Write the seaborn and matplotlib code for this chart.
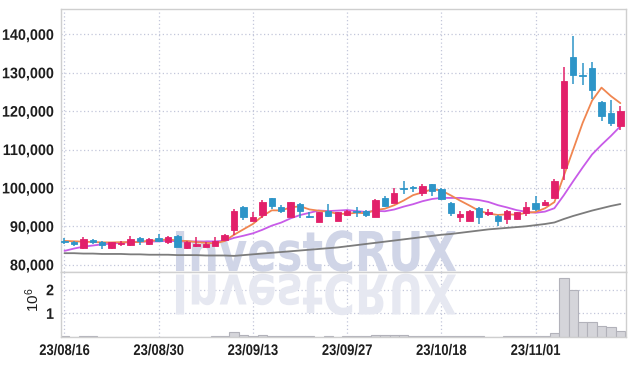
import numpy as np
import pandas as pd
import matplotlib
matplotlib.use("Agg")
import matplotlib.pyplot as plt
import seaborn as sns
from matplotlib import font_manager
from matplotlib.patheffects import AbstractPathEffect
from matplotlib.transforms import Affine2D
from matplotlib.ticker import FuncFormatter

# ---------------- data (prices in thousand KRW, volume in millions) -------------
dates = ["23/08/16", "23/08/17", "23/08/18", "23/08/21", "23/08/22", "23/08/23", "23/08/24", "23/08/25", "23/08/28", "23/08/29",
         "23/08/30", "23/08/31", "23/09/01", "23/09/04", "23/09/05", "23/09/06", "23/09/07", "23/09/08", "23/09/11", "23/09/12",
         "23/09/13", "23/09/14", "23/09/15", "23/09/18", "23/09/19", "23/09/20", "23/09/21", "23/09/22", "23/09/25", "23/09/26",
         "23/09/27", "23/10/04", "23/10/05", "23/10/06", "23/10/10", "23/10/11", "23/10/12", "23/10/13", "23/10/16", "23/10/17",
         "23/10/18", "23/10/19", "23/10/20", "23/10/23", "23/10/24", "23/10/25", "23/10/26", "23/10/27", "23/10/30", "23/10/31",
         "23/11/01", "23/11/02", "23/11/03", "23/11/06", "23/11/07", "23/11/08", "23/11/09", "23/11/10", "23/11/13", "23/11/14"]

opens = [86.3, 86.0, 84.3, 86.5, 85.9, 84.3, 85.3, 85.1, 87.0, 85.3,
         87.0, 86.0, 87.6, 84.3, 85.0, 84.7, 84.9, 86.5, 89.0, 95.1,
         91.5, 93.0, 97.3, 95.0, 92.5, 95.9, 92.7, 91.2, 93.9, 91.5,
         93.0, 94.0, 94.0, 92.5, 97.3, 96.2, 100.0, 100.2, 98.8, 101.0,
         99.7, 96.2, 92.4, 91.5, 94.7, 93.2, 92.7, 91.9, 91.9, 93.4,
         96.2, 95.6, 97.5, 105.3, 134.0, 129.4, 131.2, 122.4, 119.5, 116.0]
highs = [87.0, 86.2, 87.2, 86.8, 86.3, 86.0, 86.1, 87.4, 87.1, 87.0,
         88.1, 87.6, 87.7, 86.3, 87.2, 85.8, 87.3, 88.0, 94.5, 95.2,
         93.6, 96.9, 97.4, 95.5, 96.4, 96.0, 93.6, 93.8, 95.8, 93.7,
         94.3, 95.1, 94.2, 97.1, 97.9, 99.9, 101.9, 100.4, 101.0, 101.1,
         100.0, 96.3, 93.9, 94.3, 94.9, 94.5, 93.0, 94.3, 93.8, 96.4,
         97.9, 96.8, 102.2, 131.6, 139.6, 132.5, 132.8, 122.6, 122.9, 121.3]
lows = [85.3, 84.9, 84.2, 85.5, 84.0, 84.2, 85.0, 85.0, 85.1, 85.2,
        86.0, 85.3, 84.5, 84.2, 84.6, 84.6, 84.8, 86.4, 87.8, 91.6,
        91.3, 92.1, 94.4, 93.4, 92.4, 92.1, 92.2, 91.0, 92.3, 91.3,
        92.8, 92.3, 92.5, 92.3, 95.0, 96.0, 98.5, 99.0, 97.9, 97.9,
        96.9, 92.8, 91.1, 91.3, 90.5, 92.7, 90.1, 90.6, 91.7, 92.8,
        93.9, 95.3, 97.3, 102.1, 127.0, 126.8, 123.2, 117.3, 116.2, 115.0]
closes = [86.0, 85.3, 86.7, 86.0, 85.1, 85.9, 85.7, 86.6, 86.3, 86.8,
          86.3, 87.2, 84.6, 86.0, 85.3, 85.5, 86.3, 87.8, 94.1, 92.4,
          92.5, 96.4, 95.4, 94.0, 96.3, 94.0, 92.3, 93.7, 92.7, 93.6,
          94.0, 93.7, 93.0, 96.9, 95.3, 98.6, 99.8, 100.0, 100.5, 99.3,
          97.1, 93.4, 93.1, 94.1, 92.5, 93.6, 91.5, 93.9, 93.6, 95.0,
          94.6, 96.4, 101.9, 127.9, 129.3, 129.2, 125.4, 118.8, 116.9, 120.1]
volume = [0.05, 0.02, 0.06, 0.03, 0.02, 0.02, 0.01, 0.02, 0.02, 0.01,
          0.01, 0.02, 0.02, 0.01, 0.01, 0.02, 0.03, 0.06, 0.22, 0.10,
          0.05, 0.08, 0.05, 0.05, 0.04, 0.05, 0.04, 0.02, 0.04, 0.02,
          0.03, 0.04, 0.06, 0.07, 0.07, 0.09, 0.09, 0.05, 0.04, 0.04,
          0.04, 0.04, 0.04, 0.03, 0.03, 0.02, 0.02, 0.04, 0.04, 0.03,
          0.04, 0.04, 0.15, 2.49, 2.00, 0.62, 0.62, 0.47, 0.42, 0.27]
ma5 = [86.2, 86.1, 86.0, 85.9, 85.82, 85.80, 85.88, 85.86, 85.92, 86.26,
       86.34, 86.64, 86.24, 86.18, 85.88, 85.72, 85.54, 86.18, 87.80, 89.22,
       90.62, 92.64, 94.16, 94.14, 94.92, 95.22, 94.40, 94.06, 93.80, 93.26,
       93.26, 93.54, 93.40, 94.24, 94.58, 95.50, 96.72, 98.12, 98.84, 99.64,
       99.34, 98.06, 96.68, 95.40, 94.04, 93.34, 92.96, 93.12, 93.02, 93.52,
       93.72, 94.70, 96.30, 103.16, 110.02, 116.94, 122.74, 126.12, 123.92, 122.08]
ma10 = [83.6, 84.2, 84.7, 85.0, 85.3, 85.5, 85.7, 85.9, 86.0, 86.04,
        86.07, 86.26, 86.05, 86.05, 86.07, 86.03, 86.09, 86.21, 86.99, 87.55,
        88.17, 89.09, 90.17, 90.97, 92.07, 92.92, 93.52, 94.11, 93.97, 94.09,
        94.24, 93.97, 93.73, 94.02, 93.92, 94.38, 95.13, 95.76, 96.54, 97.11,
        97.42, 97.39, 97.40, 97.12, 96.84, 96.34, 95.51, 94.90, 94.21, 93.78,
        93.53, 93.83, 94.71, 98.09, 101.77, 105.33, 108.72, 111.21, 113.54, 116.05]
ma_long = [83.0, 83.0, 82.9, 82.9, 82.8, 82.8, 82.8, 82.7, 82.7, 82.6,
           82.6, 82.6, 82.5, 82.5, 82.5, 82.4, 82.4, 82.4, 82.3, 82.5,
           82.7, 82.9, 83.1, 83.3, 83.5, 83.7, 83.9, 84.1, 84.3, 84.5,
           84.8, 85.1, 85.4, 85.7, 86.0, 86.3, 86.6, 86.9, 87.2, 87.5,
           87.8, 88.0, 88.3, 88.6, 88.9, 89.2, 89.4, 89.6, 89.8, 90.0,
           90.3, 90.6, 91.0, 91.9, 92.7, 93.4, 94.1, 94.7, 95.3, 95.8]
price_ticks = [80000, 90000, 100000, 110000, 120000, 130000, 140000]
volume_ticks = [1, 2]
watermark = "InvestCRUX"

# ---------------- style -------------
sns.set_theme(style="whitegrid")
names = {f.name for f in font_manager.fontManager.ttflist}
tick_font = "Liberation Sans Narrow" if "Liberation Sans Narrow" in names else "Liberation Sans"
narrow = tick_font == "Liberation Sans Narrow"
plt.rcParams["font.family"] = [tick_font, "DejaVu Sans"]
plt.rcParams["mathtext.fontset"] = "custom"
plt.rcParams["mathtext.rm"] = tick_font
plt.rcParams["mathtext.it"] = tick_font

UP = "#e2206a"
DOWN = "#2d95c8"
C_MA5 = "#f08650"
C_MA10 = "#c85be8"
C_LONG = "#7c7c7c"
GRID = "#c3c7da"
SPINE = "#cfcfcf"

df = pd.DataFrame({
    "idx": np.arange(len(dates)),
    "open": np.array(opens) * 1000, "high": np.array(highs) * 1000,
    "low": np.array(lows) * 1000, "close": np.array(closes) * 1000,
    "ma5": np.array(ma5) * 1000, "ma10": np.array(ma10) * 1000,
    "ma_long": np.array(ma_long) * 1000, "volume": volume,
})

W, H = 634, 366
fig = plt.figure(figsize=(W / 100, H / 100), dpi=100)
L, R, T, MB, VB = 61, 626, 9, 272, 337
ax = fig.add_axes([L / W, (H - MB) / H, (R - L) / W, (MB - T) / H])
axv = fig.add_axes([L / W, (H - VB) / H, (R - L) / W, (VB - MB) / H], sharex=ax)

for a in (ax, axv):
    a.set_facecolor("white")
    a.grid(True, color=GRID, linestyle=(0, (1, 2)), linewidth=0.9)
    a.set_axisbelow(True)
    for s in a.spines.values():
        s.set_color(SPINE)
        s.set_linewidth(1.0)
    a.tick_params(length=0, labelsize=11, colors="#1e1e1e")


# ------- path effect: scale glyphs horizontally / mirror them (text stays real text) -------
class GlyphTransform(AbstractPathEffect):
    def __init__(self, sx=1.0, anchor="left", baseline_to=None, flip=False):
        super().__init__()
        self.sx, self.anchor = sx, anchor
        self.baseline_to, self.flip = baseline_to, flip

    def draw_path(self, renderer, gc, tpath, affine, rgbFace=None):
        if len(tpath.vertices) == 0:
            return
        ext = tpath.get_extents()
        if self.anchor == "right":
            x0 = ext.x1
        elif self.anchor == "center":
            x0 = 0.5 * (ext.x0 + ext.x1)
        else:
            x0 = 0.0
        tr = Affine2D().translate(-x0, 0).scale(self.sx, 1).translate(x0, 0) + affine
        if self.baseline_to is not None:
            by = affine.get_matrix()[1, 2]
            tr = tr + Affine2D().translate(0, -by).scale(1, -1 if self.flip else 1).translate(0, self.baseline_to)
        renderer.draw_path(gc, tpath, tr, rgbFace)


# ---------------- watermark -------------
wm_kw = dict(fontsize=39.5, fontweight="bold", family="DejaVu Sans", ha="left",
             transform=fig.transFigure, clip_on=False)
ax.text(172 / W, (H - 271) / H, watermark, color="#d0d5e7", zorder=1.2, va="bottom",
        path_effects=[GlyphTransform(0.79, "left", baseline_to=H - 271)], **wm_kw)
axv.text(172 / W, (H - 275.5) / H, watermark, color="#e6e8f1", zorder=0.6, va="top",
         path_effects=[GlyphTransform(0.79, "left", baseline_to=H - 274.5, flip=True)], **wm_kw)

# ---------------- moving averages -------------
sns.lineplot(data=df, x="idx", y="ma_long", ax=ax, color=C_LONG, linewidth=1.3, zorder=2)
sns.lineplot(data=df, x="idx", y="ma10", ax=ax, color=C_MA10, linewidth=1.3, zorder=2.2)
sns.lineplot(data=df, x="idx", y="ma5", ax=ax, color=C_MA5, linewidth=1.3, zorder=2.4)

# ---------------- candles -------------
up = df["close"] >= df["open"]
colors = np.where(up, UP, DOWN)
ax.vlines(df["idx"], df["low"], df["high"], colors=colors, linewidth=1.1, zorder=3)
body_bottom = np.minimum(df["open"], df["close"])
body_h = np.abs(df["close"] - df["open"])
ax.bar(df["idx"], body_h, bottom=body_bottom, width=0.68, color=colors,
       edgecolor=colors, linewidth=0.6, zorder=4)

# ---------------- volume -------------
axv.bar(df["idx"], df["volume"], width=1.0, color="#d5d5da", edgecolor="#b2b2ba",
        linewidth=0.8, zorder=2)

# ---------------- axes formatting -------------
ax.set_xlim(-0.37, 59.6)
ax.set_ylim(78100, 146600)
axv.set_ylim(0, 2.75)
ax.set_yticks(price_ticks)
ax.yaxis.set_major_formatter(FuncFormatter(lambda v, p: f"{v:,.0f}"))
axv.set_yticks(volume_ticks)
tick_pos = list(range(0, len(dates), 10))
axv.set_xticks(tick_pos)
axv.set_xticklabels([dates[i] for i in tick_pos])
ax.tick_params(labelbottom=False)
ax.set_xlabel("")
ax.set_ylabel("")
axv.set_xlabel("")
axv.set_ylabel(r"$\mathregular{10^{6}}$", fontsize=11, color="#1e1e1e")
axv.yaxis.set_label_coords(-0.034, 0.58)

sx_y = 1.0 if narrow else 0.94
sx_x = 1.0 if narrow else 0.85
for lab in ax.get_yticklabels() + axv.get_yticklabels():
    lab.set_fontweight("bold")
    lab.set_path_effects([GlyphTransform(sx_y, "right")])
for lab in axv.get_xticklabels():
    lab.set_fontweight("bold")
    lab.set_path_effects([GlyphTransform(sx_x, "center")])
ax.tick_params(axis="y", pad=5)
axv.tick_params(axis="y", pad=5)
axv.tick_params(axis="x", pad=5)

fig.savefig("out.png", dpi=100)
